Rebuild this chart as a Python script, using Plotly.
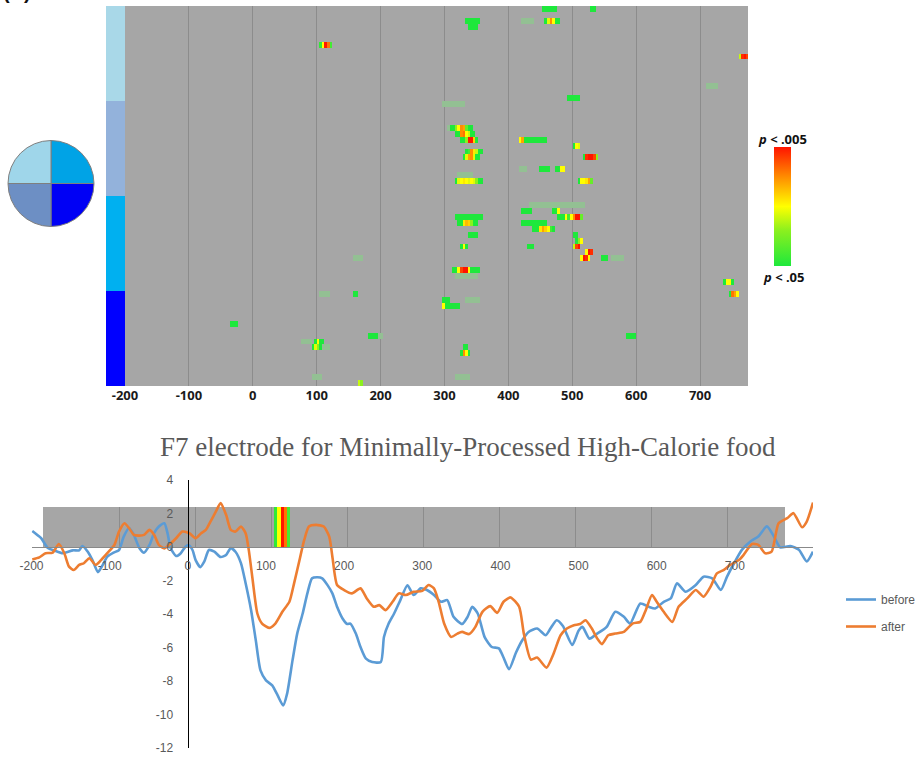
import plotly.graph_objects as go

W, H = 917, 761


def fx(p):
    return p / W


def fy(p):
    return 1 - p / H


# ---------------- data ----------------
N_ROWS = 64
BIN_MS = 4
T_START, T_END = -200, 776
TIME_TICKS = [-200, -100, 0, 100, 200, 300, 400, 500, 600, 700]
TIME_LABELS = ["-200", "-100", "0", "100", "200", "300", "400", "500", "600", "700"]
BAND_GRID = [-100, 0, 100, 200, 300, 400, 500, 600, 700]
VOLT_TICKS = [-12, -10, -8, -6, -4, -2, 0, 2, 4]
VOLT_LABELS = ["-12", "-10", "-8", "-6", "-4", "-2", "0", "2", "4"]

REGION_COLORS = ["#a9d8e8", "#93b2db", "#00b0f0", "#0000ff"]
REGION_OF_ROW = [0] * 16 + [1] * 16 + [2] * 16 + [3] * 16
HEAD_LABELS = ["right anterior", "right posterior", "left posterior", "left anterior"]
HEAD_SHARE = [1, 1, 1, 1]
HEAD_COLORS = ["#00a3e6", "#0000f5", "#6d8fc4", "#9fd6ea"]

# significance level per 4 ms bin: 0 = p<.05 (green) ... 1 = p<.005 (red)
SIG_BLOBS = [
    (0, 452, [0, 0, 0, 0, 0, 0]),
    (0, 528, [0, 0]),
    (2, 332, [0, 0, 0, 0, 0, 0]),
    (3, 336, [0, 0, 0, 0]),
    (2, 456, [0, 0.45, 0.75, 0.5, 0, 0]),
    (6, 104, [0.05, 0.5, 1.0, 0.8, 0.1]),
    (8, 760, [0.4, 0.95, 1.0, 0.9]),
    (15, 492, [0, 0, 0, 0, 0]),
    (20, 308, [0, 0, 0.3, 0.5, 0.75, 0.7, 0.2, 0, 0]),
    (21, 316, [0, 0, 0.75, 0.8, 0.5, 0.4, 0, 0]),
    (22, 324, [0, 0, 0.3, 1.0, 1.0, 0.6, 0]),
    (22, 416, [0.5, 0.7, 0, 0, 0, 0, 0, 0, 0, 0, 0]),
    (23, 500, [0, 0.5, 0.45]),
    (24, 332, [0, 0.1, 0.75, 0.55, 0.4, 0, 0]),
    (25, 328, [0, 0.45, 0.7, 0.75, 0.45, 0, 0]),
    (25, 516, [0, 0.95, 1.0, 1.0, 0.9, 0.3]),
    (27, 448, [0, 0, 0, 0]),
    (27, 472, [0, 0, 0.5, 0.5]),
    (29, 316, [0, 0.45, 0.5, 0.55, 0.5, 0.45, 0.5, 0.45, 0.3, 0, 0]),
    (29, 508, [0, 0.5, 0.5, 0.55, 0.7, 0.2]),
    (34, 420, [0, 0, 0, 0]),
    (34, 468, [0, 0, 0.5]),
    (35, 476, [0, 0, 0, 0.5, 0.1, 0.5, 0.75, 1.0, 1.0, 0.2]),
    (35, 316, [0, 0, 0, 0, 0, 0, 0, 0, 0, 0, 0]),
    (36, 320, [0, 0, 0.55, 0.65, 0.6, 0.3, 0, 0]),
    (36, 420, [0, 0, 0, 0, 0, 0, 0, 0, 0, 0]),
    (37, 436, [0, 0, 0, 0.55, 0.7, 0.6, 0.5, 0.1, 0]),
    (38, 336, [0, 0, 0, 0]),
    (38, 500, [0, 0]),
    (39, 504, [0, 0.3, 0.5]),
    (40, 500, [0.4, 0.9, 1.0]),
    (40, 324, [0, 0.5, 0]),
    (40, 428, [0, 0, 0]),
    (41, 520, [0.5, 1.0, 0.95]),
    (42, 512, [0.5, 1.0, 0.95, 0.5]),
    (42, 544, [0, 0, 0]),
    (44, 312, [0, 0, 0.5, 0.9, 1.0, 1.0, 0.5, 0, 0, 0, 0]),
    (46, 736, [0, 0.5, 0.5, 0]),
    (48, 744, [0, 0.8, 0.7, 0.5]),
    (48, 156, [0, 0]),
    (49, 296, [0, 0, 0]),
    (50, 296, [0.5, 0, 0, 0, 0, 0, 0]),
    (53, -36, [0, 0, 0]),
    (55, 180, [0, 0, 0, 0]),
    (55, 584, [0, 0, 0, 0]),
    (56, 96, [0, 0.5, 0, 0]),
    (57, 92, [0, 0.45, 0.3, 0]),
    (57, 328, [0, 0]),
    (58, 324, [0, 0.75, 0.5, 0]),
    (63, 164, [0.4, 0.3]),
]

# faint (blurred) cells: (row, start ms, number of 4 ms bins)
FAINT_BLOBS = [
    (2, 420, 5), (13, 708, 5), (16, 296, 9), (20, 304, 1), (27, 416, 3),
    (28, 320, 6), (33, 432, 22), (42, 560, 5), (42, 156, 4), (45, 316, 9),
    (48, 104, 4), (49, 332, 6), (55, 196, 2), (56, 76, 4), (57, 104, 4),
    (62, 92, 4), (62, 316, 6),
]

F7_ROW = 6

before_t = [-199, -188, -179, -171, -160, -147, -139, -135, -128, -122, -115, -109, -103, -95, -88,
            -82, -75, -69, -62, -56, -49, -43, -37, -30, -26, -22, -15, -9, -3, 1, 6, 10, 16, 21,
            27, 34, 42, 49, 55, 61, 68, 74, 81, 87, 93, 100, 108, 115, 122, 127, 134, 140, 147,
            153, 159, 166, 172, 179, 185, 191, 198, 204, 208, 215, 221, 228, 236, 247, 251, 257,
            264, 272, 281, 289, 298, 306, 315, 324, 332, 340, 351, 358, 364, 371, 380, 389, 398,
            404, 411, 420, 428, 436, 447, 458, 464, 472, 480, 492, 500, 505, 514, 523, 536, 547,
            558, 566, 579, 590, 598, 609, 618, 626, 637, 650, 660, 671, 682, 690, 699, 709, 720,
            730, 741, 750, 758, 771, 782, 792, 800]
before_v = [0.96, 0.54, -0.06, -0.2, -0.37, -0.2, -0.2, 0.06, -0.28, -0.78, -1.5, -1.08, -0.58, -0.34,
            -0.18, 0.62, 1.13, 0.72, -0.06, -0.34, 0.12, 0.84, 1.22, 1.42, 0.84, -0.06, -0.54, -0.37,
            0.02, 0.12, -0.18, -0.78, -1.2, -0.88, -0.18, -0.28, -0.6, -0.48, -0.06, -0.28, -0.96,
            -2.16, -3.77, -5.57, -7.37, -7.96, -8.26, -8.86, -9.46, -8.77, -6.77, -5.17, -3.97, -2.77,
            -1.87, -1.81, -1.87, -2.29, -2.77, -3.57, -4.27, -4.6, -4.57, -5.17, -5.97, -6.67, -6.87,
            -6.87, -5.37, -4.57, -3.97, -3.17, -2.28, -2.87, -2.47, -2.57, -2.87, -3.27, -3.17, -4.17,
            -4.6, -4.17, -3.57, -3.97, -5.4, -5.97, -6.05, -6.6, -7.3, -6.3, -5.57, -5.07, -4.87,
            -5.27, -4.87, -4.37, -4.72, -5.85, -5.0, -4.77, -5.47, -5.2, -4.77, -3.87, -4.17, -4.57,
            -3.37, -3.57, -3.67, -3.27, -3.07, -2.17, -2.67, -2.27, -1.77, -1.87, -2.57, -1.77, -0.97,
            -0.17, 0.33, 0.63, 1.23, 0.63, -0.02, 0.06, -0.17, -0.87, -0.28]

after_t = [-199, -190, -182, -173, -165, -158, -152, -146, -139, -133, -126, -118, -111, -103, -94,
           -88, -81, -75, -69, -62, -56, -49, -43, -37, -30, -24, -15, -7, 2, 10, 17, 23, 29, 36,
           42, 49, 55, 61, 68, 74, 78, 83, 89, 95, 104, 112, 121, 130, 136, 142, 149, 155, 164,
           174, 181, 185, 191, 200, 210, 221, 229, 238, 245, 253, 262, 270, 279, 289, 300, 308,
           315, 321, 328, 337, 345, 351, 360, 368, 377, 387, 396, 404, 413, 424, 430, 439, 447,
           459, 468, 477, 485, 494, 502, 509, 517, 524, 530, 538, 547, 558, 569, 579, 586, 594,
           600, 609, 620, 628, 639, 650, 660, 669, 677, 686, 694, 705, 711, 722, 730, 739, 747,
           756, 767, 775, 786, 792, 800]
after_v = [-0.74, -0.62, -0.37, -0.34, 0.18, -0.37, -1.17, -1.37, -1.07, -0.97, -0.67, -1.07, -0.78,
           -0.37, 0.12, 0.92, 1.42, 1.12, 0.72, 0.68, 0.72, 1.02, 0.72, 0.12, -0.08, 0.12, 0.52, 0.92,
           0.82, 0.52, 0.82, 1.02, 1.52, 2.12, 2.62, 1.92, 1.02, 0.92, 1.22, 0.82, -0.17, -1.97, -3.97,
           -4.57, -4.83, -4.57, -3.87, -3.27, -2.17, -0.97, 0.42, 1.22, 1.32, 1.22, 0.62, -0.58, -2.27,
           -2.57, -2.77, -2.47, -3.07, -3.57, -3.47, -3.77, -3.27, -2.77, -2.87, -2.67, -2.62, -2.27,
           -2.47, -3.27, -4.57, -5.37, -5.17, -5.07, -5.2, -4.77, -3.87, -3.53, -3.93, -3.27, -3.01,
           -3.57, -5.17, -6.72, -6.6, -7.2, -6.37, -5.27, -4.87, -4.67, -4.6, -4.37, -4.87, -5.47,
           -5.8, -5.27, -5.17, -5.07, -4.57, -4.47, -3.77, -2.87, -3.27, -3.87, -4.47, -3.57, -3.07,
           -2.57, -2.97, -2.37, -1.57, -1.37, -1.07, -0.78, -0.48, 0.18, 0.12, -0.38, -0.28, 1.42,
           1.72, 2.02, 1.18, 1.52, 2.65]

# ---------------- build matrices ----------------
n_bins = (T_END - T_START) // BIN_MS
bin_centers = [T_START + BIN_MS * (i + 0.5) for i in range(n_bins)]
rows = list(range(N_ROWS))

z_sig = [[None] * n_bins for _ in rows]
for r, t0, levels in SIG_BLOBS:
    i0 = (t0 - T_START) // BIN_MS
    for k, lv in enumerate(levels):
        if 0 <= i0 + k < n_bins:
            z_sig[r][i0 + k] = lv

z_faint = [[None] * n_bins for _ in rows]
for r, t0, nb in FAINT_BLOBS:
    i0 = (t0 - T_START) // BIN_MS
    for k in range(nb):
        i = i0 + k
        if 0 <= i < n_bins and z_sig[r][i] is None:
            z_faint[r][i] = 1

SIG_SCALE = [[0, "#1ee83c"], [0.3, "#8cf01e"], [0.5, "#ffff00"], [0.75, "#ff8c00"], [1, "#ff1400"]]
c = REGION_COLORS
STRIP_SCALE = [[0, c[0]], [0.25, c[0]], [0.25, c[1]], [0.5, c[1]], [0.5, c[2]], [0.75, c[2]],
               [0.75, c[3]], [1, c[3]]]

fig = go.Figure()

# top heatmap (faint + significant)
fig.add_trace(go.Heatmap(x=bin_centers, y=rows, z=z_faint, xaxis="x", yaxis="y",
                         colorscale=[[0, "#93c093"], [1, "#93c093"]], zmin=0, zmax=1,
                         showscale=False, hoverinfo="skip"))
fig.add_trace(go.Heatmap(x=bin_centers, y=rows, z=z_sig, xaxis="x", yaxis="y",
                         colorscale=SIG_SCALE, zmin=0, zmax=1, hoverinfo="skip",
                         colorbar=dict(x=fx(774), xanchor="left", y=fy(206.5), yanchor="middle",
                                       lenmode="pixels", len=119, thicknessmode="pixels",
                                       thickness=17, outlinewidth=0, showticklabels=False,
                                       ticks="", xpad=0, ypad=0)))

# region strip
fig.add_trace(go.Heatmap(x=[0], y=rows, z=[[REGION_OF_ROW[r]] for r in rows], xaxis="x4",
                         yaxis="y", colorscale=STRIP_SCALE, zmin=-0.5, zmax=3.5,
                         showscale=False, hoverinfo="skip"))

# head map
fig.add_trace(go.Pie(labels=HEAD_LABELS, values=HEAD_SHARE, sort=False, direction="clockwise",
                     rotation=0, marker=dict(colors=HEAD_COLORS, line=dict(color="#7f7f7f", width=1)),
                     textinfo="none", hoverinfo="skip", showlegend=False,
                     domain=dict(x=[fx(8), fx(94)], y=[fy(227), fy(140)])))

# F7 band in lower chart
fig.add_trace(go.Heatmap(x=bin_centers, y=[0], z=[z_sig[F7_ROW]], xaxis="x2", yaxis="y2",
                         colorscale=SIG_SCALE, zmin=0, zmax=1, showscale=False, hoverinfo="skip"))

# ERP lines
fig.add_trace(go.Scatter(x=before_t, y=before_v, name="before", mode="lines", xaxis="x3", yaxis="y3",
                         line=dict(color="#5b9bd5", width=2.6, shape="spline", smoothing=0.6),
                         legendgroup="b"))
fig.add_trace(go.Scatter(x=after_t, y=after_v, name="after", mode="lines", xaxis="x3", yaxis="y3",
                         line=dict(color="#ed7d31", width=2.6, shape="spline", smoothing=0.6),
                         legendgroup="a"))

GRID = "#8c8c8c"
BG = "#a6a6a6"

fig.update_layout(
    width=W, height=H, autosize=False,
    margin=dict(l=0, r=0, t=0, b=0, autoexpand=False),
    paper_bgcolor="white", plot_bgcolor="rgba(0,0,0,0)",
    font=dict(family="Liberation Sans", color="#595959"),
    xaxis=dict(domain=[fx(125), fx(748)], range=[-200, 775], anchor="y", tickvals=TIME_TICKS,
               ticktext=TIME_LABELS,
               showgrid=True, gridcolor=GRID, gridwidth=1, zeroline=False, showline=False,
               ticks="",
               tickfont=dict(family="Noto Sans", size=13, color="#1a1a1a", weight=700)),
    yaxis=dict(domain=[fy(386), fy(6)], range=[N_ROWS - 0.5, -0.5], anchor="x", visible=False),
    xaxis4=dict(domain=[fx(106), fx(125)], range=[-0.5, 0.5], anchor="y", visible=False),
    xaxis2=dict(domain=[fx(43), fx(785)], range=[-200, 775], anchor="y2", tickvals=BAND_GRID,
                showticklabels=False, showgrid=True, gridcolor=GRID, gridwidth=1,
                zeroline=False, showline=False, ticks=""),
    yaxis2=dict(domain=[fy(547), fy(507)], range=[-0.5, 0.5], anchor="x2", visible=False),
    xaxis3=dict(domain=[fx(31.5), fx(813)], range=[-200, 800], anchor="free", position=fy(547),
                tickvals=TIME_TICKS, ticktext=TIME_LABELS, showgrid=False, zeroline=False,
                showline=True, linecolor="#898989", linewidth=1.3, ticks="outside", ticklen=7,
                tickcolor="rgba(0,0,0,0)", tickfont=dict(size=12, color="#595959")),
    yaxis3=dict(domain=[fy(748), fy(480)], range=[-12, 4], anchor="free", position=fx(187.5),
                tickvals=VOLT_TICKS, ticktext=VOLT_LABELS, showgrid=False, zeroline=False,
                showline=True, linecolor="black", linewidth=1, ticks="outside", ticklen=12,
                tickcolor="rgba(0,0,0,0)", tickfont=dict(size=12, color="#595959")),
    legend=dict(x=fx(841), y=fy(585), xanchor="left", yanchor="top", itemwidth=30,
                font=dict(size=12, color="#595959"), bgcolor="rgba(0,0,0,0)", tracegroupgap=8),
    shapes=[
        dict(type="rect", xref="x domain", yref="y domain", x0=0, x1=1, y0=0, y1=1,
             fillcolor=BG, line=dict(width=0), layer="below"),
        dict(type="rect", xref="x2 domain", yref="y2 domain", x0=0, x1=1, y0=0, y1=1,
             fillcolor=BG, line=dict(width=0), layer="below"),
    ],
    annotations=[
        dict(text="F7 electrode for Minimally-Processed High-Calorie food", x=fx(468), y=fy(447),
             xref="paper", yref="paper", xanchor="center", yanchor="middle", showarrow=False,
             font=dict(family="Liberation Serif", size=27, color="#595959")),
        dict(text="<b><i>p</i> < .005</b>", x=fx(782), y=fy(139), xref="paper", yref="paper",
             xanchor="center", yanchor="middle", showarrow=False,
             font=dict(family="Noto Sans", size=13, color="#111111")),
        dict(text="<b><i>p</i> < .05</b>", x=fx(783), y=fy(277), xref="paper", yref="paper",
             xanchor="center", yanchor="middle", showarrow=False,
             font=dict(family="Noto Sans", size=13, color="#111111")),
        dict(text="<b>(A)</b>", x=fx(1), y=fy(-8), xref="paper", yref="paper",
             xanchor="left", yanchor="middle", showarrow=False,
             font=dict(family="Liberation Sans", size=20, color="#111111")),
    ],
)

fig.write_html("out.html", config={"displayModeBar": False},
               post_script="document.body.style.margin='0px';")
